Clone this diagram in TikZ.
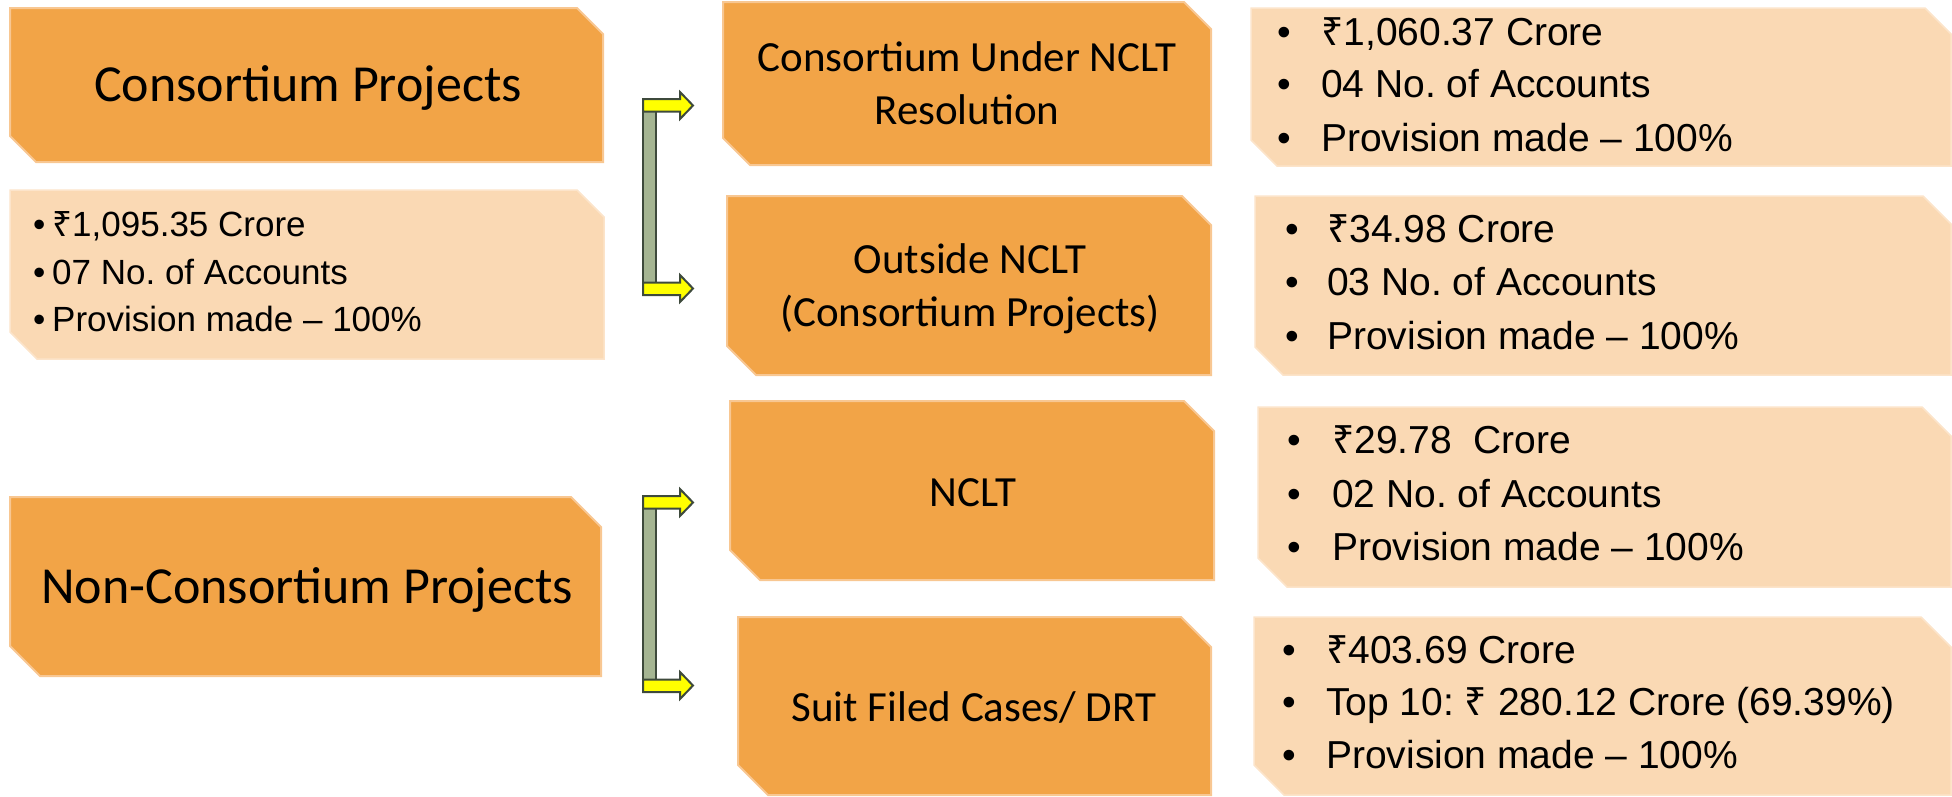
\documentclass[tikz,border=0pt]{standalone}
\usepackage{fontspec}
\setmainfont{Liberation Sans}
\newfontfamily\titlefont{Carlito}
\newfontfamily\rupfont{Noto Sans}
\newcommand\Rup{{\rupfont ₹}}
\definecolor{darkor}{HTML}{F2A447}
\definecolor{darkedge}{HTML}{F8C792}
\definecolor{lightor}{HTML}{FAD9B4}
\definecolor{lightedge}{HTML}{FCE4CA}
\definecolor{barfill}{HTML}{A5B592}
\definecolor{barline}{HTML}{3E4A3C}
\definecolor{arrowfill}{HTML}{FFFF00}
\tikzset{
  darkbox/.style={fill=darkor, draw=darkedge, line width=2pt},
  lightbox/.style={fill=lightor, draw=lightedge, line width=1.5pt},
  bigtitle/.style={anchor=base, inner sep=0pt, font=\titlefont\fontsize{52}{62}\selectfont},
  title/.style={anchor=base, inner sep=0pt, font=\titlefont\fontsize{43}{53}\selectfont},
  bulR/.style={anchor=base west, inner sep=0pt, font=\fontsize{39}{47}\selectfont},
  bulL/.style={anchor=base west, inner sep=0pt, font=\fontsize{35}{42}\selectfont},
  barstyle/.style={fill=barfill, draw=barline, line width=2pt},
  arrstyle/.style={fill=arrowfill, draw=barline, line width=2pt, line join=miter},
}
\newcommand\snipbox[6]{%
  \path[#6] (#1,#2) -- ({#3-#5},#2) -- (#3,{#2+#5}) -- (#3,#4) -- ({#1+#5},#4) -- (#1,{#4-#5}) -- cycle;}
\newcommand\bracketpair[2]{%
  \path[barstyle] (643,#1) rectangle (656,#2);
  \path[arrstyle] (643,#1) -- (680,#1) -- (680,{#1+6.5-13.5}) -- (693,{#1+6.5}) -- (680,{#1+6.5+13.5}) -- (680,{#1+12.5}) -- (643,{#1+12.5}) -- cycle;
  \path[arrstyle] (643,{#2-12.5}) -- (680,{#2-12.5}) -- (680,{#2-6.5-13.5}) -- (693,{#2-6.5}) -- (680,{#2-6.5+13.5}) -- (680,#2) -- (643,#2) -- cycle;}
\newcommand\bl[2]{\makebox[#1][l]{•}#2}
\frenchspacing
\begin{document}
\frenchspacing
\begin{tikzpicture}[x=1pt,y=-1pt]
\useasboundingbox (0,0) rectangle (1952,796);
% left column
\snipbox{10}{8}{603}{162}{26}{darkbox}
\snipbox{10}{190}{604}{359}{27}{lightbox}
\snipbox{10}{497}{601}{676}{30}{darkbox}
\node[bigtitle] (cp) at (308,101) {Consortium Projects};
\node[bulL] (b1) at (33,236) {\bl{19pt}{\Rup1,095.35 Crore}};
\node[bulL] (b2) at (33,284) {\bl{19pt}{07 No. of Accounts}};
\node[bulL] (b3) at (33,331) {\bl{19pt}{Provision made – 100\%}};
\node[bigtitle] (ncp) at (307,603) {Non-Consortium Projects};
% brackets
\bracketpair{99}{295}
\bracketpair{496}{692}
% middle column
\snipbox{723}{2}{1211}{165}{27}{darkbox}
\snipbox{727}{196}{1211}{375}{29}{darkbox}
\snipbox{730}{401}{1214}{580}{30}{darkbox}
\snipbox{738}{617}{1211}{795}{30}{darkbox}
\node[title] (d1) at (967,71) {Consortium Under NCLT};
\node[title] (d2) at (967,124) {Resolution};
\node[title] (e1) at (970,273) {Outside NCLT};
\node[title] (e2) at (970,326) {(Consortium Projects)};
\node[title] (f1) at (973,506) {NCLT};
\node[title] (g1) at (974,721) {Suit Filed Cases/ DRT};
% right column
\snipbox{1251}{8}{1951}{166}{26}{lightbox}
\snipbox{1255}{196}{1951}{375}{28}{lightbox}
\snipbox{1258}{407}{1951}{587}{29}{lightbox}
\snipbox{1254}{617}{1951}{795}{30}{lightbox}
\node[bulR] (h1) at (1277,45) {\bl{44pt}{\Rup1,060.37 Crore}};
\node[bulR] (h2) at (1277,97) {\bl{44pt}{04 No. of Accounts}};
\node[bulR] (h3) at (1277,151) {\bl{44pt}{Provision made – 100\%}};
\node[bulR] (i1) at (1285,242) {\bl{42pt}{\Rup34.98 Crore}};
\node[bulR] (i2) at (1285,295) {\bl{42pt}{03 No. of Accounts}};
\node[bulR] (i3) at (1285,349) {\bl{42pt}{Provision made – 100\%}};
\node[bulR] (j1) at (1287,453) {\bl{45pt}{\Rup29.78~ Crore}};
\node[bulR] (j2) at (1287,507) {\bl{45pt}{02 No. of Accounts}};
\node[bulR] (j3) at (1287,560) {\bl{45pt}{Provision made – 100\%}};
\node[bulR] (k1) at (1282,663) {\bl{44pt}{\Rup403.69 Crore}};
\node[bulR] (k2) at (1282,715) {\bl{44pt}{Top 10: \Rup\ 280.12 Crore (69.39\%)}};
\node[bulR] (k3) at (1282,768) {\bl{44pt}{Provision made – 100\%}};
\end{tikzpicture}
\end{document}
